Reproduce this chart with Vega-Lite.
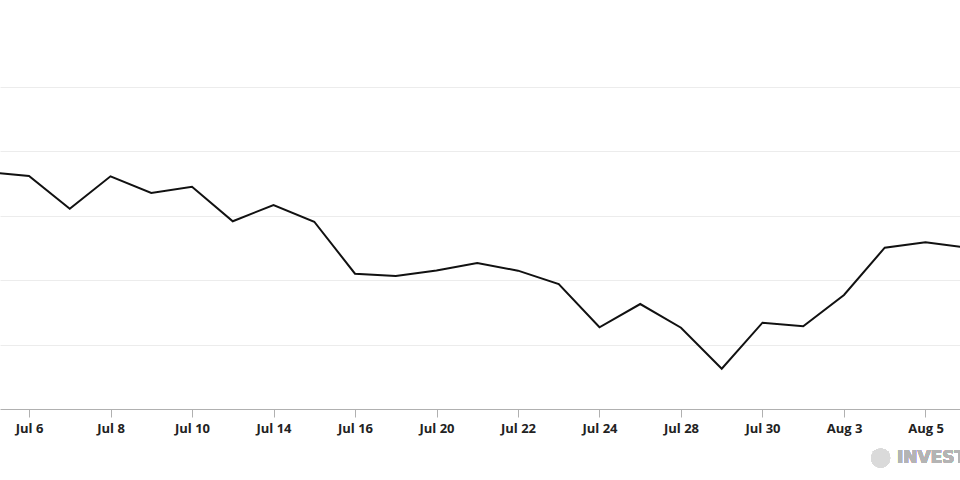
{
  "$schema": "https://vega.github.io/schema/vega-lite/v6.json",
  "width": 960,
  "height": 409,
  "autosize": "none",
  "padding": {"top": 0, "left": 0, "right": 0, "bottom": 71},
  "background": "white",
  "config": {
    "view": {"stroke": null},
    "font": "Open Sans"
  },
  "data": {
    "values": [
      {"n": 0, "day": "Jul 3", "price": 3.677},
      {"n": 1, "day": "Jul 6", "price": 3.618},
      {"n": 2, "day": "Jul 7", "price": 3.110},
      {"n": 3, "day": "Jul 8", "price": 3.613},
      {"n": 4, "day": "Jul 9", "price": 3.354},
      {"n": 5, "day": "Jul 10", "price": 3.452},
      {"n": 6, "day": "Jul 13", "price": 2.915},
      {"n": 7, "day": "Jul 14", "price": 3.168},
      {"n": 8, "day": "Jul 15", "price": 2.908},
      {"n": 9, "day": "Jul 16", "price": 2.101},
      {"n": 10, "day": "Jul 17", "price": 2.065},
      {"n": 11, "day": "Jul 20", "price": 2.151},
      {"n": 12, "day": "Jul 21", "price": 2.267},
      {"n": 13, "day": "Jul 22", "price": 2.148},
      {"n": 14, "day": "Jul 23", "price": 1.941},
      {"n": 15, "day": "Jul 24", "price": 1.269},
      {"n": 16, "day": "Jul 27", "price": 1.630},
      {"n": 17, "day": "Jul 28", "price": 1.262},
      {"n": 18, "day": "Jul 29", "price": 0.626},
      {"n": 19, "day": "Jul 30", "price": 1.340},
      {"n": 20, "day": "Jul 31", "price": 1.284},
      {"n": 21, "day": "Aug 3", "price": 1.770},
      {"n": 22, "day": "Aug 4", "price": 2.505},
      {"n": 23, "day": "Aug 5", "price": 2.588},
      {"n": 24, "day": "Aug 6", "price": 2.509}
    ]
  },
  "layer": [
    {
      "mark": {"type": "line", "color": "#111111", "strokeWidth": 2, "clip": true},
      "encoding": {
        "x": {
          "field": "n",
          "type": "quantitative",
          "scale": {"domain": [0.288, 23.847], "nice": false, "zero": false},
          "axis": {
            "title": null,
            "grid": false,
            "values": [1, 3, 5, 7, 9, 11, 13, 15, 17, 19, 21, 23],
            "labelExpr": "['Jul 3','Jul 6','Jul 7','Jul 8','Jul 9','Jul 10','Jul 13','Jul 14','Jul 15','Jul 16','Jul 17','Jul 20','Jul 21','Jul 22','Jul 23','Jul 24','Jul 27','Jul 28','Jul 29','Jul 30','Jul 31','Aug 3','Aug 4','Aug 5','Aug 6'][datum.value]",
            "domainColor": "#b0b0b0",
            "tickColor": "#b0b0b0",
            "tickSize": 8,
            "labelPadding": 5,
            "labelFont": "Open Sans",
            "labelFontSize": 13,
            "labelFontWeight": "bold",
            "labelColor": "#222222",
            "labelFlush": false,
            "labelOverlap": false
          }
        },
        "y": {
          "field": "price",
          "type": "quantitative",
          "scale": {"domain": [0, 6.351], "nice": false, "zero": false},
          "axis": {
            "title": null,
            "values": [1, 2, 3, 4, 5],
            "labels": false,
            "ticks": false,
            "domain": false,
            "grid": true,
            "gridColor": "#ececec",
            "gridWidth": 1
          }
        }
      }
    },
    {
      "mark": {"type": "point", "filled": true, "shape": "circle", "size": 360, "color": "#dadada", "clip": false},
      "encoding": {
        "x": {"datum": 21.9, "type": "quantitative"},
        "y": {"datum": -0.76, "type": "quantitative"}
      }
    },
    {
      "mark": {"type": "text", "align": "left", "baseline": "middle", "font": "DejaVu Sans", "fontSize": 17, "fontWeight": "bold", "color": "#b4b4b4", "clip": false},
      "encoding": {
        "x": {"datum": 22.3, "type": "quantitative"},
        "y": {"datum": -0.76, "type": "quantitative"},
        "text": {"value": "INVESTING.com"}
      }
    }
  ]
}
